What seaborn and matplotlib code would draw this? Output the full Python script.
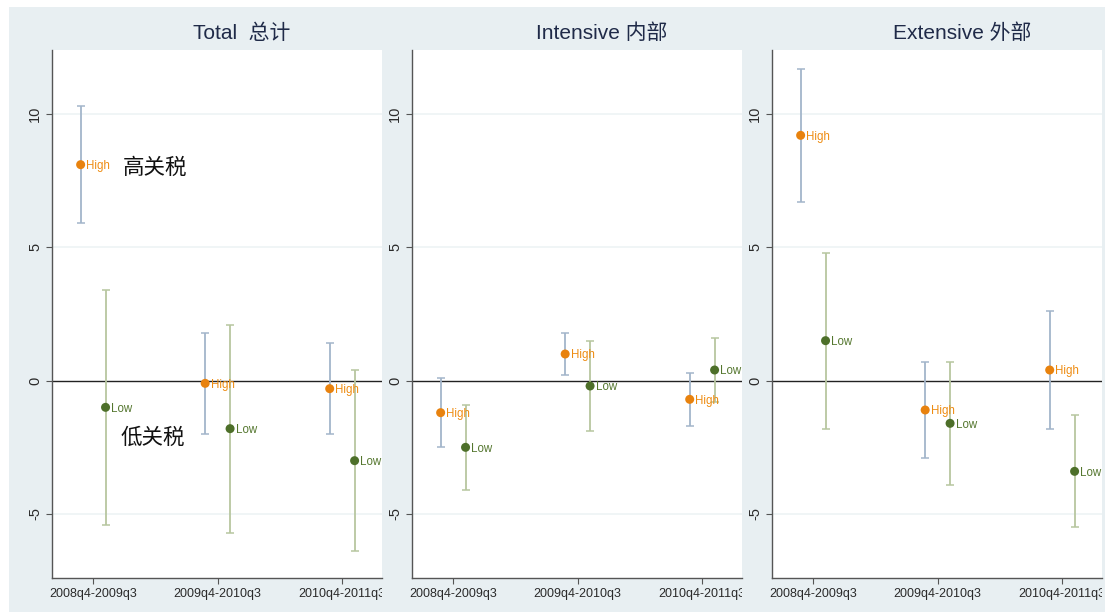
import matplotlib
matplotlib.use("Agg")
import matplotlib.pyplot as plt
import matplotlib.patches as patches
from matplotlib.transforms import Bbox, TransformedBbox
import numpy as np
import pandas as pd
import seaborn as sns

# ---- data -------------------------------------------------------------
periods = ["2008q4-2009q3", "2009q4-2010q3", "2010q4-2011q3"]
panel_titles = ["Total  总计", "Intensive 内部", "Extensive 外部"]
groups = ["High", "Low"]

total_high = [8.1, -0.1, -0.3]
total_high_lo = [5.9, -2.0, -2.0]
total_high_hi = [10.3, 1.8, 1.4]
total_low = [-1.0, -1.8, -3.0]
total_low_lo = [-5.4, -5.7, -6.4]
total_low_hi = [3.4, 2.1, 0.4]

intensive_high = [-1.2, 1.0, -0.7]
intensive_high_lo = [-2.5, 0.2, -1.7]
intensive_high_hi = [0.1, 1.8, 0.3]
intensive_low = [-2.5, -0.2, 0.4]
intensive_low_lo = [-4.1, -1.9, -0.8]
intensive_low_hi = [-0.9, 1.5, 1.6]

extensive_high = [9.2, -1.1, 0.4]
extensive_high_lo = [6.7, -2.9, -1.8]
extensive_high_hi = [11.7, 0.7, 2.6]
extensive_low = [1.5, -1.6, -3.4]
extensive_low_lo = [-1.8, -3.9, -5.5]
extensive_low_hi = [4.8, 0.7, -1.3]

y_ticks = [-5, 0, 5, 10]
note_high = "高关税"
note_low = "低关税"

panels = [
    (total_high, total_high_lo, total_high_hi, total_low, total_low_lo, total_low_hi),
    (intensive_high, intensive_high_lo, intensive_high_hi, intensive_low, intensive_low_lo, intensive_low_hi),
    (extensive_high, extensive_high_lo, extensive_high_hi, extensive_low, extensive_low_lo, extensive_low_hi),
]

# ---- style ------------------------------------------------------------
sns.set_theme(style="white")
plt.rcParams["font.family"] = ["Liberation Sans", "Noto Sans CJK SC", "DejaVu Sans"]

BG = "#e8eff2"
MARK = {"High": "#e8820e", "Low": "#4d6f29"}
TEXTC = {"High": "#ee8c12", "Low": "#55772f"}
CIC = {"High": "#a3b5ca", "Low": "#b7c69f"}
OFFSET = {"High": -0.1, "Low": 0.1}

W, H = 1105, 612
fig = plt.figure(figsize=(W / 100, H / 100), dpi=100, facecolor="white")
fig.patches.append(patches.Rectangle((9 / W, 0), (W - 9) / W, (H - 7) / H,
                                     transform=fig.transFigure, facecolor=BG,
                                     edgecolor="none", zorder=-10))

axes_px = [(52, 382), (412, 742), (772, 1102)]
clip_left = [10, 384, 744]
y_top, y_bot = 50, 578

for i, ((x0, x1), data) in enumerate(zip(axes_px, panels)):
    ax = fig.add_axes([x0 / W, 1 - y_bot / H, (x1 - x0) / W, (y_bot - y_top) / H])
    ax.set_facecolor("white")
    hi, hi_lo, hi_hi, lo, lo_lo, lo_hi = data
    rows = []
    for g, est, lwr, upr in (("High", hi, hi_lo, hi_hi), ("Low", lo, lo_lo, lo_hi)):
        for k, p in enumerate(periods):
            rows.append({"group": g, "period": p, "pos": k + OFFSET[g],
                         "est": est[k], "lo": lwr[k], "hi": upr[k]})
    df = pd.DataFrame(rows)

    for yt in y_ticks:
        if yt != 0:
            ax.axhline(yt, color="#eef4f5", lw=1.2, zorder=0)
    ax.axhline(0, color="#222222", lw=1.0, zorder=1)

    for g in groups:
        sub = df[df.group == g]
        ax.errorbar(sub.pos, sub.est, yerr=[sub.est - sub.lo, sub.hi - sub.est],
                    fmt="none", ecolor=CIC[g], elinewidth=1.3, capsize=3,
                    capthick=1.1, zorder=2)
    sns.scatterplot(data=df, x="pos", y="est", hue="group", palette=MARK,
                    s=42, edgecolor="none", legend=False, ax=ax, zorder=3)
    for _, r in df.iterrows():
        ax.annotate(r.group, (r.pos, r.est), xytext=(4, -1), textcoords="offset points",
                    color=TEXTC[r.group], fontsize=8.3, va="center", ha="left",
                    annotation_clip=False, zorder=4)

    ax.set_xlim(-0.33, 2.32)
    ax.set_ylim(-7.4, 12.4)
    ax.set_xticks(range(len(periods)))
    ax.set_xticklabels(periods, fontsize=9, color="#2a2a2a")
    ax.set_yticks(y_ticks)
    ax.set_yticklabels([str(v) for v in y_ticks], fontsize=10.5, rotation=90,
                       va="center", color="#2a2a2a")
    ax.tick_params(axis="both", direction="out", length=4, width=0.8,
                   color="#555555", left=True, bottom=True, pad=3)
    ax.set_xlabel("")
    ax.set_ylabel("")
    for s in ("top", "right"):
        ax.spines[s].set_visible(False)
    ax.spines["left"].set_color("#555555")
    ax.spines["bottom"].set_color("#555555")
    ax.spines["left"].set_linewidth(1.0)
    ax.spines["bottom"].set_linewidth(1.0)
    ax.set_title(panel_titles[i], fontsize=15, color="#1f2a48", x=0.575, pad=8)

    clip = TransformedBbox(Bbox([[clip_left[i] / W, 0], [x1 / W, 1]]), fig.transFigure)
    for lab in ax.get_xticklabels():
        lab.set_clip_box(clip)
        lab.set_clip_on(True)

    if i == 0:
        ax.annotate(note_high, (0, total_high[0]), xytext=(21, -2), textcoords="offset points",
                    fontsize=15.5, color="#111111", va="center", ha="left",
                    family=["Noto Sans CJK SC"])
        ax.annotate(note_low, (0, total_low[0]), xytext=(19.5, -22), textcoords="offset points",
                    fontsize=15.5, color="#111111", va="center", ha="left",
                    family=["Noto Sans CJK SC"])

fig.savefig("out.png", dpi=100, facecolor="white")
